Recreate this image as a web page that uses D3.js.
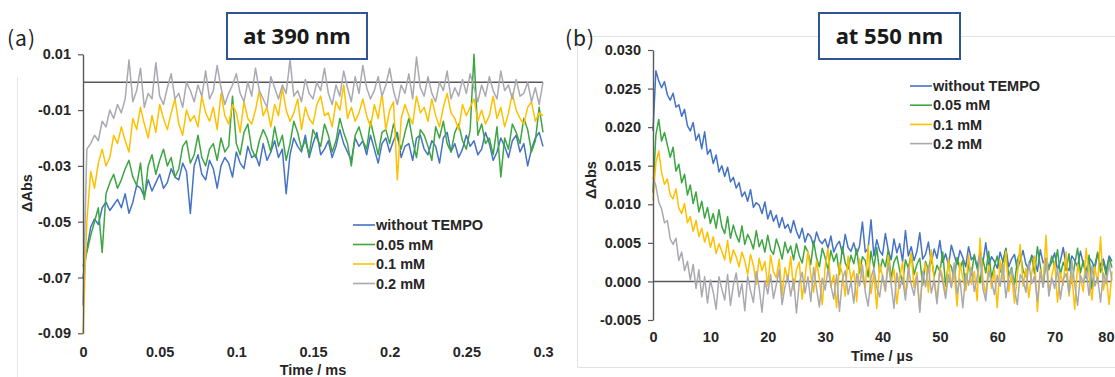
<!DOCTYPE html>
<html>
<head>
<meta charset="utf-8">
<script src="https://cdn.jsdelivr.net/npm/d3@7"></script>
<style>
  body { margin: 0; background: #fff; }
  svg { display: block; font-family: "Liberation Sans", Arial, sans-serif; }
</style>
</head>
<body>
<svg id="chart" width="1115" height="377"></svg>
<script>
// all ΔAbs values below are in units of 1e-3
const seriesNames = ["without TEMPO", "0.05 mM", "0.1 mM", "0.2 mM"];
const seriesColors = ["#4472C4", "#3DA542", "#FFC000", "#A9A9B2"];

// (a) at 390 nm, time in ms, one sample every 0.0025 ms
const timeA = d3.range(121).map(i => i * 0.0025);
const blueA = [-70,-60,-52,-49,-51,-45,-43,-46,-44,-42, -45,-40,-47,-43,-37,-38,-41,-35,-39,-36,
  -33,-38,-36,-31,-34,-35,-29,-32,-47,-30, -26,-33,-35,-28,-31,-38,-30,-27,-29,-34,
  -25,-29,-31,-23,-27,-26,-30,-22,-28,-25, -21,-27,-24,-40,-26,-20,-23,-25,-19,-27,
  -22,-18,-26,-24,-21,-27,-23,-17,-22,-25, -28,-20,-23,-21,-26,-19,-24,-29,-22,-20,
  -25,-21,-18,-27,-23,-22,-28,-20,-19,-24, -26,-21,-23,-29,-20,-18,-25,-22,-27,-24,
  -19,-23,-21,-26,-24,-18,-22,-28,-25,-20, -23,-27,-21,-19,-25,-22,-30,-24,-20,-18, -23];
const greenA = [-66,-61,-55,-50,-45,-61,-40,-36,-33,-38, -35,-31,-28,-34,-37,-29,-42,-30,-26,-33,
  -28,-24,-30,-27,-34,-31,-23,-21,-29,-26, -19,-27,-30,-24,-22,-28,-20,-25,-23,-5,
  -22,-26,-18,-15,-24,-27,-21,-17,-20,-25, -16,-23,-19,-28,-22,-14,-18,-24,-21,-26,
  -17,-20,-23,-15,-19,-25,-21,-13,-18,-22, -30,-19,-16,-21,-24,-14,-20,-26,-18,-17,
  -22,-15,-20,-24,-18,-13,-21,-27,-17,-19, -23,-28,-16,-20,-14,-22,-25,-18,-15,-21,
  -24,-17,10,-19,-15,-22,-20,-26,-16,-34, -20,-24,-15,-18,-22,-13,-17,-25,-21,-9, -18];
const yellowA = [-90,-50,-32,-38,-29,-24,-30,-27,-19,-22, -16,-21,-25,-13,-17,-9,-15,-20,-12,-18,
  -8,-13,-17,-11,-6,-15,-19,-10,-14,-12, -16,-5,-11,-14,-9,-17,-4,-12,-15,-8,
  -11,-18,-7,-13,-15,-10,-3,-12,-9,-16, -8,-12,-2,-10,-14,-11,-6,-17,-9,-13,
  -15,-8,-5,-12,-11,-16,-7,-10,-1,-13, -9,-14,-11,-6,-12,-16,-8,-13,-4,-17,
  -10,-7,-35,-13,-8,-12,-15,-5,-11,-9, -14,-6,-12,-16,-9,-4,-11,-13,-17,-8,
  -12,-9,-6,-14,-10,-15,-12,-5,-13,-9, -16,-11,-4,-10,-13,-15,-9,-7,-14,-11, -12];
const grayA = [-80,-24,-22,-19,-21,-14,-16,-10,-13,-8, -11,-6,8,-7,-3,5,-9,-4,-6,7,
  -5,-8,-2,3,-6,-4,-9,0,-3,-7, -1,-5,4,-6,-3,6,-2,-8,-4,-1,
  3,-4,-7,0,-5,5,-3,-6,-9,2, -2,-6,-1,-4,8,-5,-3,-7,1,-4,
  -6,0,-3,5,-4,-8,-1,-5,4,-2, -7,2,-4,6,-2,-6,-3,2,-5,-1,
  5,-3,-8,-1,-4,3,-6,9,-2,-5, 2,-4,-7,0,-3,4,-6,-2,-5,1,
  -4,3,-2,-7,-1,-5,2,-3,-6,4, -3,-1,-6,1,-5,-4,0,-7,-2,-8, 0];

const xTicksA = [0, 0.05, 0.1, 0.15, 0.2, 0.25, 0.3];
const xTickLabelsA = ["0", "0.05", "0.1", "0.15", "0.2", "0.25", "0.3"];
const yTicksA = [10, -10, -30, -50, -70, -90];
const yTickLabelsA = ["0.01", "-0.01", "-0.03", "-0.05", "-0.07", "-0.09"];

// (b) at 550 nm, time in µs, one sample every 0.5 µs
const timeB = d3.range(161).map(i => i * 0.5);
const blueB = [19.5,27.3,26.0,25.1,25.9,24.2,23.5,24.4,22.6,22.9, 21.4,22.3,20.2,19.5,20.6,18.3,19.1,17.2,19.4,16.5,
  17.1,15.3,16.4,14.2,15.0,13.6,14.8,12.9,13.5,12.1, 12.8,11.0,11.6,10.4,11.9,9.6,10.2,9.9,8.8,10.3,
  8.1,9.2,7.8,8.6,7.0,8.3,6.9,7.4,6.3,7.9, 6.5,5.6,6.9,5.1,6.2,5.8,4.6,6.4,5.3,4.9,
  5.5,4.3,5.9,3.8,4.7,5.2,3.6,6.1,4.4,3.9, 5.0,3.5,4.6,7.7,3.8,4.3,8.0,3.3,5.4,4.0,
  3.4,6.2,4.1,2.8,5.5,3.7,4.9,2.6,6.6,3.3, 4.5,2.7,3.9,6.3,2.9,3.5,5.1,2.4,4.2,3.0,
  5.3,2.5,3.6,2.1,4.7,3.4,2.2,4.0,3.1,1.9, 4.5,2.8,3.3,1.8,3.9,2.4,5.0,2.0,3.2,2.6,
  1.7,3.8,2.5,4.3,1.9,2.9,3.5,1.5,2.7,4.0, 2.2,1.6,3.4,2.8,1.3,4.1,2.4,3.0,1.8,2.5,
  3.7,1.5,2.6,4.4,2.0,1.4,3.3,2.7,1.9,3.9, 2.3,1.2,3.1,2.6,1.6,3.6,2.0,2.9,1.4,3.3, 2.6];
const greenB = [11.5,19.0,21.0,18.2,19.3,17.7,16.1,17.4,14.3,15.2, 12.8,13.9,11.2,12.5,10.1,11.6,9.0,10.4,8.2,9.6,
  7.5,8.8,6.9,9.3,7.1,6.2,8.4,5.6,7.3,6.0, 5.1,7.2,4.8,6.1,5.3,4.2,6.6,4.5,5.4,3.8,
  6.0,4.1,3.5,5.5,4.4,2.9,5.1,3.7,4.6,2.8, 4.9,3.3,2.4,4.6,3.8,2.2,5.2,3.0,1.9,4.3,
  3.1,1.5,4.0,2.6,3.6,0.9,4.5,2.4,1.6,3.4, 2.3,4.2,1.1,3.2,2.7,0.6,3.9,1.8,4.4,1.2,
  2.9,1.9,4.1,0.4,2.5,3.3,1.4,-0.3,2.8,1.7, 3.6,0.9,2.2,3.0,-0.5,2.6,1.5,3.4,0.6,2.1,
  1.3,3.8,-0.6,2.4,1.9,0.3,3.1,1.6,2.7,-1.0, 2.2,0.8,3.5,1.7,-0.2,2.9,1.1,3.9,0.5,2.0,
  3.3,1.2,2.6,4.2,0.7,1.8,-0.4,2.8,3.7,1.4, 0.6,2.4,3.1,1.0,4.5,2.0,-0.7,2.7,1.5,3.3,
  1.9,4.1,0.9,2.5,1.4,3.6,-0.3,2.2,4.3,1.1, 2.7,0.4,3.4,-1.0,2.1,3.8,1.2,2.5,0.8,3.0, 1.8];
const yellowB = [10.5,15.4,16.9,14.1,12.6,13.3,11.2,10.7,12.0,9.5, 8.8,10.1,7.6,8.4,6.5,7.9,5.8,6.9,5.1,6.4,
  4.4,5.8,3.6,4.9,3.9,2.8,5.3,2.4,4.1,3.2, 1.9,3.8,2.7,0.9,3.5,2.1,-0.4,3.0,1.4,2.6,
  -0.6,3.4,1.2,0.5,2.9,-1.8,1.8,0.2,3.2,-1.1, 1.5,2.5,-2.3,0.6,3.9,0.9,-1.4,2.7,0.3,-3.0,
  1.8,4.3,-0.7,0.8,-3.4,2.4,1.0,-1.9,3.3,0.1, 1.4,-2.6,2.9,0.5,-0.8,4.7,-1.6,1.1,-3.5,2.2,
  0.7,-1.3,3.4,-0.2,1.6,-2.9,0.6,2.5,-1.8,0.4, 3.7,-0.8,1.2,-3.7,0.9,2.3,-1.4,4.1,0.2,-2.4,
  1.8,0.6,-2.0,3.0,-0.7,1.1,-3.2,2.4,0.4,-1.2, 3.5,-0.4,1.3,-2.5,5.6,0.3,-1.7,2.1,-0.9,1.5,
  -3.4,2.7,0.2,3.9,-1.3,1.0,-2.8,0.8,4.8,-0.6, 1.7,-2.1,1.0,3.3,-3.9,1.5,-0.3,6.0,-1.6,0.7,
  2.5,-2.7,1.1,-0.5,3.8,-1.9,0.9,-3.6,2.2,0.4, -1.3,4.3,0.6,-2.4,1.9,-0.3,5.8,-1.1,0.7,-3.0, 1.3];
const grayB = [13.5,12.4,10.3,9.4,7.6,7.9,5.5,4.8,5.6,2.7, 3.8,1.4,2.6,0.2,2.2,-0.9,1.5,-2.0,0.6,-2.8,
  0.2,-1.4,-3.6,0.6,-1.0,-2.4,0.9,-3.1,-0.5,1.1, -2.0,-0.3,-3.8,0.7,-1.2,-2.7,1.3,-0.8,-4.0,0.1,
  -1.6,0.9,-2.2,-0.4,1.5,-3.0,-0.7,0.8,-1.9,0.3, -4.1,-0.2,1.2,-1.5,0.6,-2.6,1.8,-0.9,-3.3,0.4,
  -1.1,1.6,-0.5,-2.3,0.9,-3.9,0.2,1.4,-1.7,0.0, -2.8,1.0,-0.6,2.1,-1.4,-3.2,0.5,1.7,-0.8,-2.0,
  0.8,-1.2,2.3,-0.3,-3.5,1.1,-0.9,0.4,-2.4,1.9, -0.4,-1.8,0.7,-4.0,1.3,-0.7,2.0,-1.5,0.2,-2.9,
  1.5,-0.1,-2.2,0.9,-0.8,2.4,-1.6,0.3,-3.4,1.0, -0.5,1.8,-1.3,0.6,3.2,-0.9,-2.5,1.4,0.1,-1.7,
  0.8,-0.6,2.2,-2.1,0.4,1.6,-1.0,-3.0,0.9,0.2, -1.4,2.5,-0.3,0.7,-2.6,1.2,-0.7,3.0,-1.9,0.5,
  -0.9,1.7,-2.3,0.3,1.0,-1.5,2.7,-0.4,-3.1,0.8, -0.2,1.4,-1.8,2.0,-0.6,0.5,-2.7,1.1,-0.3,2.3, 0.1];

const xTicksB = [0, 10, 20, 30, 40, 50, 60, 70, 80];
const xTickLabelsB = ["0", "10", "20", "30", "40", "50", "60", "70", "80"];
const yTicksB = [30, 25, 20, 15, 10, 5, 0, -5];
const yTickLabelsB = ["0.030", "0.025", "0.020", "0.015", "0.010", "0.005", "0.000", "-0.005"];

const svg = d3.select("#chart");
const axisColor = "#595959";

// faint chart-area frames
svg.append("line").attr("x1", 17.5).attr("x2", 17.5).attr("y1", 77).attr("y2", 377)
  .attr("stroke", "#E6E6E6");
svg.append("path").attr("d", "M1115,36.5H577.5V367.5H1115")
  .attr("fill", "none").attr("stroke", "#E2E2E2");

function drawPanel(p) {
  const x = d3.scaleLinear().domain(p.xDomain).range([p.left, p.right]);
  const y = d3.scaleLinear().domain(p.yDomain).range([p.bottom, p.top]);
  const g = svg.append("g");

  // horizontal axis line crossing at zero
  g.append("line")
    .attr("x1", x(p.xDomain[0])).attr("x2", x(p.xDomain[1]))
    .attr("y1", y(0)).attr("y2", y(0))
    .attr("stroke", axisColor).attr("stroke-width", 1.5);

  const line = d3.line().x((d, i) => x(p.time[i])).y(d => y(d));
  p.series.forEach((s, k) => {
    g.append("path").datum(s)
      .attr("d", line)
      .attr("fill", "none")
      .attr("stroke", seriesColors[k])
      .attr("stroke-width", 1.5)
      .attr("stroke-linejoin", "round");
  });

  // y axis
  const yAxis = g.append("g")
    .attr("transform", `translate(${p.left},0)`)
    .call(d3.axisLeft(y).tickValues(p.yTicks)
      .tickFormat((d, i) => p.yLabels[i]).tickSize(5).tickSizeOuter(0).tickPadding(7));
  yAxis.select(".domain").attr("stroke", axisColor).attr("stroke-width", 1.4);
  yAxis.selectAll(".tick line").attr("stroke", axisColor).attr("stroke-width", 1.2);
  yAxis.selectAll("text").attr("font-size", 14.5).attr("font-weight", "bold").attr("fill", "#262626")
    .attr("font-family", "Liberation Sans, Arial, sans-serif");

  // x labels sit below the plot ("low" position)
  const xAxis = g.append("g")
    .attr("transform", `translate(0,${p.bottom})`)
    .call(d3.axisBottom(x).tickValues(p.xTicks)
      .tickFormat((d, i) => p.xLabels[i]).tickSize(0).tickPadding(p.xPad));
  xAxis.select(".domain").remove();
  xAxis.selectAll("text").attr("font-size", 14.5).attr("font-weight", "bold").attr("fill", "#262626")
    .attr("font-family", "Liberation Sans, Arial, sans-serif");
  if (p.lastLabelEnd) {
    // keep the right-most label inside the page
    xAxis.selectAll(".tick").filter((d, i, n) => i === n.length - 1).select("text")
      .attr("text-anchor", "end").attr("dx", 2);
  }

  // axis titles
  g.append("text").attr("x", p.xTitle[0]).attr("y", p.xTitle[1])
    .attr("text-anchor", "middle").attr("font-size", 14.5).attr("font-weight", "bold")
    .attr("fill", "#262626").text(p.xTitleText);
  g.append("text")
    .attr("transform", `translate(${p.yTitle[0]},${p.yTitle[1]}) rotate(-90)`)
    .attr("text-anchor", "middle").attr("dy", "0.35em").attr("font-size", 14.5)
    .attr("font-weight", "bold").attr("fill", "#262626").text("ΔAbs");

  // legend
  const leg = g.append("g");
  seriesNames.forEach((name, k) => {
    const yy = p.legend.y + k * p.legend.step;
    leg.append("line").attr("x1", p.legend.x).attr("x2", p.legend.x + 22)
      .attr("y1", yy).attr("y2", yy).attr("stroke", seriesColors[k]).attr("stroke-width", 1.6);
    leg.append("text").attr("x", p.legend.x + 23).attr("y", yy).attr("dy", "0.36em")
      .attr("font-size", 14.5).attr("font-weight", "bold").attr("fill", "#262626").text(name);
  });

  // title box
  g.append("rect").attr("x", p.box[0]).attr("y", p.box[1]).attr("width", p.box[2]).attr("height", p.box[3])
    .attr("fill", "#fff").attr("stroke", "#2F5597").attr("stroke-width", 2);
  g.append("text").attr("x", p.box[0] + p.box[2] / 2).attr("y", p.box[1] + p.box[3] / 2)
    .attr("dy", "0.36em").attr("text-anchor", "middle")
    .attr("font-family", "'Noto Sans', 'Open Sans', sans-serif").attr("font-weight", "bold")
    .attr("font-size", 22).attr("fill", "#1a1a1a").text(p.title);

  // panel letter
  g.append("text").attr("x", p.letter[0]).attr("y", p.letter[1])
    .attr("font-family", "'Noto Sans CJK JP', 'Noto Sans', sans-serif")
    .attr("font-size", 21).attr("letter-spacing", 1).attr("fill", "#222").text(p.letterText);
}

drawPanel({
  time: timeA, series: [blueA, greenA, yellowA, grayA],
  xDomain: [0, 0.3], yDomain: [-90, 10],
  left: 83, right: 543, top: 54.3, bottom: 333.3,
  xTicks: xTicksA, xLabels: xTickLabelsA, yTicks: yTicksA, yLabels: yTickLabelsA, xPad: 13,
  xTitle: [313, 375], xTitleText: "Time / ms", yTitle: [27, 193],
  legend: { x: 353, y: 225, step: 19.5 },
  box: [227, 13, 140, 46], title: "at 390 nm",
  letter: [7, 46], letterText: "(a)"
});

drawPanel({
  time: timeB, series: [blueB, greenB, yellowB, grayB],
  xDomain: [0, 80], yDomain: [-5, 30],
  left: 653, right: 1112, top: 50, bottom: 320,
  xTicks: xTicksB, xLabels: xTickLabelsB, yTicks: yTicksB, yLabels: yTickLabelsB, xPad: 11.5,
  lastLabelEnd: true,
  xTitle: [882, 361], xTitleText: "Time / µs", yTitle: [591, 180],
  legend: { x: 910, y: 86, step: 19.2 },
  box: [819, 13, 141, 46], title: "at 550 nm",
  letter: [565, 46], letterText: "(b)"
});
</script>
</body>
</html>
